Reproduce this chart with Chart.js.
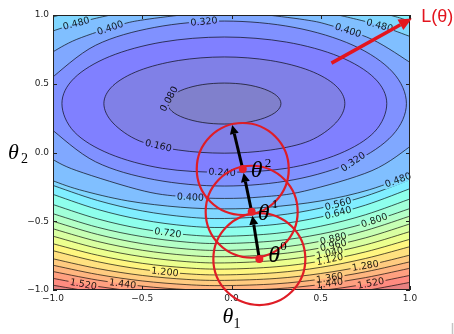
<!DOCTYPE html>
<html>
<head>
<meta charset="utf-8">
<script src="https://cdn.jsdelivr.net/npm/chart.js@4.4.0/dist/chart.umd.min.js"></script>
<style>
  html, body { margin: 0; padding: 0; background: #fff; }
  canvas { display: block; }
</style>
</head>
<body>
<canvas id="lossChart" width="454" height="334"></canvas>
<script>
// contour levels of L(theta1, theta2)
var levels = [0.08, 0.16, 0.24, 0.32, 0.40, 0.48, 0.56, 0.64, 0.72, 0.80,
              0.88, 0.96, 1.04, 1.12, 1.20, 1.28, 1.36, 1.44, 1.52, 1.60];
var levelTop = 1.76;

// closed contours around the minimum
var loop008 = [[0.277, 0.356], [0.253, 0.413], [0.184, 0.461], [0.081, 0.494], [-0.04, 0.505], [-0.161, 0.494],
  [-0.264, 0.461], [-0.333, 0.413], [-0.357, 0.356], [-0.333, 0.299], [-0.264, 0.251], [-0.161, 0.218],
  [-0.04, 0.207], [0.081, 0.218], [0.184, 0.251], [0.253, 0.299]];
var loop016 = [[0.635, 0.356], [0.584, 0.486], [0.437, 0.596], [0.218, 0.669], [-0.04, 0.695], [-0.298, 0.669],
  [-0.517, 0.596], [-0.664, 0.486], [-0.715, 0.356], [-0.664, 0.215], [-0.517, 0.085], [-0.298, 0.018],
  [-0.04, -0.005], [0.218, 0.018], [0.437, 0.085], [0.584, 0.215]];
var loop024 = [[0.87, 0.356], [0.801, 0.541], [0.603, 0.698], [0.308, 0.803], [-0.04, 0.84], [-0.388, 0.803],
  [-0.683, 0.698], [-0.881, 0.541], [-0.95, 0.356], [-0.881, 0.15], [-0.683, -0.01], [-0.388, -0.115],
  [-0.04, -0.144], [0.308, -0.115], [0.603, -0.01], [0.801, 0.15]];
// 0.32 leaves through the left edge only
var arc032 = [[-1.01, 0.17], [-0.761, -0.068], [-0.43, -0.198], [-0.04, -0.244], [0.35, -0.198], [0.681, -0.068],
  [0.902, 0.126], [0.98, 0.356], [0.902, 0.586], [0.681, 0.78], [0.35, 0.91], [-0.04, 0.956], [-0.43, 0.91],
  [-0.761, 0.78], [-1.01, 0.54]];
// 0.40 and 0.48: lower arc plus the two pieces cut by the top edge
var low040 = [[-1.01, -0.045], [-0.867, -0.132], [-0.488, -0.281], [-0.25, -0.323], [-0.04, -0.334],
  [0.17, -0.323], [0.408, -0.281], [0.787, -0.132], [1.01, 0.052]];
var topLeft040 = [[-0.25, 1.005], [-0.488, 0.966], [-0.625, 0.928], [-0.867, 0.823], [-1.01, 0.725]];
var topRight040 = [[0.17, 1.005], [0.408, 0.966], [0.545, 0.928], [0.787, 0.823], [1.01, 0.647]];
var low048 = [[-1.01, -0.201], [-0.852, -0.271], [-0.581, -0.352], [-0.286, -0.398], [-0.04, -0.41],
  [0.206, -0.398], [0.501, -0.352], [0.772, -0.271], [1.01, -0.157]];
var topLeft048 = [[-0.66, 1.005], [-0.77, 0.973], [-0.87, 0.939], [-1.01, 0.88]];
var topRight048 = [[0.58, 1.005], [0.70, 0.969], [0.83, 0.924], [1.01, 0.839]];
var topLeft056 = [[-0.94, 1.005], [-0.975, 0.995], [-1.01, 0.98]];
var topRight056 = [[0.87, 1.005], [0.94, 0.98], [1.01, 0.95]];

// lower contours, 0.56 .. 1.60, sampled at the same theta1 values
var lowX = [-1.01, -0.75, -0.5, -0.25, -0.04, 0.25, 0.5, 0.75, 1.01];
var lowLevels = [0.56, 0.64, 0.72, 0.80, 0.88, 0.96, 1.04, 1.12, 1.20, 1.28, 1.36, 1.44, 1.52, 1.60];
var low056 = [-0.235, -0.349, -0.425, -0.469, -0.48, -0.458, -0.404, -0.318, -0.193];
var low064 = [-0.30, -0.414, -0.49, -0.534, -0.545, -0.523, -0.469, -0.383, -0.258];
var low072 = [-0.374, -0.483, -0.556, -0.598, -0.609, -0.588, -0.536, -0.453, -0.333];
var low080 = [-0.441, -0.544, -0.612, -0.652, -0.662, -0.642, -0.593, -0.515, -0.403];
var low088 = [-0.496, -0.596, -0.663, -0.702, -0.712, -0.693, -0.645, -0.568, -0.458];
var low096 = [-0.551, -0.647, -0.711, -0.748, -0.758, -0.74, -0.694, -0.621, -0.515];
var low104 = [-0.605, -0.697, -0.758, -0.794, -0.803, -0.785, -0.742, -0.672, -0.571];
var low112 = [-0.66, -0.747, -0.806, -0.839, -0.848, -0.831, -0.79, -0.723, -0.627];
var low120 = [-0.711, -0.794, -0.85, -0.882, -0.89, -0.874, -0.835, -0.771, -0.681];
var low128 = [-0.77, -0.844, -0.894, -0.923, -0.93, -0.916, -0.88, -0.824, -0.743];
var low136 = [-0.817, -0.887, -0.934, -0.961, -0.968, -0.955, -0.921, -0.868, -0.792];
var low144 = [-0.863, -0.928, -0.972, -0.997, -1.004, -0.991, -0.96, -0.91, -0.839];
var low152 = [-0.913, -0.974, -1.015, -1.039, -1.045, -1.033, -1.004, -0.958, -0.891];
var low160 = [-0.963, -1.019, -1.057, -1.079, -1.085, -1.074, -1.047, -1.004, -0.942];
var lowYs = [low056, low064, low072, low080, low088, low096, low104, low112, low120, low128,
             low136, low144, low152, low160];

// inline contour labels: level, theta1, theta2
var contourLabels = [
  [0.48, -0.87, 0.939], [0.40, -0.68, 0.906], [0.32, -0.154, 0.952], [0.08, -0.35, 0.39],
  [0.16, -0.41, 0.05], [0.24, -0.053, -0.144], [0.32, 0.681, -0.068], [0.40, 0.653, 0.888],
  [0.48, 0.83, 0.924], [0.40, -0.23, -0.325], [0.48, 0.933, -0.2], [0.56, 0.597, -0.374],
  [0.64, 0.597, -0.439], [0.72, -0.356, -0.584], [0.80, 0.80, -0.494], [0.88, 0.57, -0.626],
  [0.96, 0.57, -0.676], [1.04, 0.55, -0.73], [1.12, 0.55, -0.778], [1.20, -0.373, -0.869],
  [1.28, 0.75, -0.824], [1.36, 0.55, -0.912], [1.44, 0.55, -0.952], [1.44, -0.61, -0.955],
  [1.52, -0.83, -0.958], [1.52, 0.78, -0.951]
];

// gradient descent steps theta^0, theta^1, theta^2 and where the next step heads
var stepX = [0.156, 0.113, 0.063];
var stepY = [-0.775, -0.431, -0.12];
var nextStep = [0.004, 0.2];
// arrow toward the L(theta) axis
var lossArrow = [[0.56, 0.65], [1.01, 0.975]];

var contours = [
  { level: 0.08, side: 'loop', pts: loop008 },
  { level: 0.16, side: 'loop', pts: loop016 },
  { level: 0.24, side: 'loop', pts: loop024 },
  { level: 0.32, side: 'edge', pts: arc032 },
  { level: 0.40, side: 'above', pts: low040 },
  { level: 0.40, side: 'topleft', pts: topLeft040 },
  { level: 0.40, side: 'topright', pts: topRight040 },
  { level: 0.48, side: 'above', pts: low048 },
  { level: 0.48, side: 'topleft', pts: topLeft048 },
  { level: 0.48, side: 'topright', pts: topRight048 },
  { level: 0.56, side: 'topleft', pts: topLeft056 },
  { level: 0.56, side: 'topright', pts: topRight056 }
];
lowLevels.forEach(function (lv, i) {
  contours.push({ level: lv, side: 'above', pts: lowX.map(function (x, j) { return [x, lowYs[i][j]]; }) });
});

// matplotlib "jet", half transparent over white
function jet(t) {
  function ramp(stops) {
    for (var i = 1; i < stops.length; i++) {
      if (t <= stops[i][0]) {
        var a = stops[i - 1], b = stops[i];
        return a[1] + (b[1] - a[1]) * (t - a[0]) / (b[0] - a[0]);
      }
    }
    return stops[stops.length - 1][1];
  }
  return [
    ramp([[0, 0], [0.35, 0], [0.66, 1], [0.89, 1], [1, 0.5]]),
    ramp([[0, 0], [0.125, 0], [0.375, 1], [0.64, 1], [0.91, 0], [1, 0]]),
    ramp([[0, 0.5], [0.11, 1], [0.34, 1], [0.65, 0], [1, 0]])
  ];
}
function bandColor(lo, hi) {
  var c = jet((lo + hi) / 2 / levelTop);
  return 'rgb(' + c.map(function (v) { return Math.round(255 * (0.5 * v + 0.5)); }).join(',') + ')';
}

function smoothPath(ctx, p, closed) {
  var n = p.length;
  ctx.moveTo(p[0][0], p[0][1]);
  var segs = closed ? n : n - 1;
  for (var i = 0; i < segs; i++) {
    var p0 = p[closed ? (i - 1 + n) % n : Math.max(i - 1, 0)];
    var p1 = p[i];
    var p2 = p[(i + 1) % n];
    var p3 = p[closed ? (i + 2) % n : Math.min(i + 2, n - 1)];
    ctx.bezierCurveTo(p1[0] + (p2[0] - p0[0]) / 6, p1[1] + (p2[1] - p0[1]) / 6,
                      p2[0] - (p3[0] - p1[0]) / 6, p2[1] - (p3[1] - p1[1]) / 6, p2[0], p2[1]);
  }
  if (closed) ctx.closePath();
}

// corners used to close each contour on its low-value side
var lowSide = {
  above: [[1.2, 1.2], [-1.2, 1.2]],
  topleft: [[-1.2, -1.2], [1.2, -1.2], [1.2, 1.2]],
  topright: [[1.2, -1.2], [-1.2, -1.2], [-1.2, 1.2]],
  edge: [],
  loop: []
};

function drawArrow(ctx, x0, y0, x1, y1, width, headLen, headHalf, color) {
  var dx = x1 - x0, dy = y1 - y0, len = Math.sqrt(dx * dx + dy * dy);
  var ux = dx / len, uy = dy / len;
  var bx = x1 - ux * headLen, by = y1 - uy * headLen;
  ctx.save();
  ctx.strokeStyle = color;
  ctx.fillStyle = color;
  ctx.lineWidth = width;
  ctx.beginPath();
  ctx.moveTo(x0, y0);
  ctx.lineTo(bx, by);
  ctx.stroke();
  ctx.beginPath();
  ctx.moveTo(x1, y1);
  ctx.lineTo(bx - uy * headHalf, by + ux * headHalf);
  ctx.lineTo(bx + uy * headHalf, by - ux * headHalf);
  ctx.closePath();
  ctx.fill();
  ctx.restore();
}

var labelFont = '9.5px "DejaVu Sans"';

var contourPlugin = {
  id: 'contours',
  beforeDatasetsDraw: function (chart) {
    var ctx = chart.ctx, a = chart.chartArea;
    var xs = chart.scales.x, ys = chart.scales.y;
    var toPx = function (p) { return [xs.getPixelForValue(p[0]), ys.getPixelForValue(p[1])]; };
    var w = a.right - a.left, h = a.bottom - a.top;

    // filled bands, painted from the highest level down
    ctx.save();
    ctx.beginPath();
    ctx.rect(a.left, a.top, w, h);
    ctx.clip();
    ctx.fillStyle = bandColor(1.60, 1.68);
    ctx.fillRect(a.left, a.top, w, h);
    for (var i = levels.length - 1; i >= 0; i--) {
      var lv = levels[i];
      ctx.save();
      contours.forEach(function (c) {
        if (c.level !== lv) return;
        ctx.beginPath();
        smoothPath(ctx, c.pts.map(toPx), c.side === 'loop');
        lowSide[c.side].forEach(function (q) { var r = toPx(q); ctx.lineTo(r[0], r[1]); });
        ctx.closePath();
        ctx.clip();
      });
      ctx.fillStyle = bandColor(lv - 0.08, lv);
      ctx.fillRect(a.left, a.top, w, h);
      ctx.restore();
    }
    ctx.restore();

    // contour lines, broken where the labels sit
    var off = document.createElement('canvas');
    off.width = chart.width;
    off.height = chart.height;
    var oc = off.getContext('2d');
    oc.beginPath();
    oc.rect(a.left, a.top, w, h);
    oc.clip();
    oc.strokeStyle = 'rgba(0,0,0,0.72)';
    oc.lineWidth = 0.9;
    contours.forEach(function (c) {
      oc.beginPath();
      smoothPath(oc, c.pts.map(toPx), c.side === 'loop');
      oc.stroke();
    });

    var placed = contourLabels.map(function (l) {
      var q = toPx([l[1], l[2]]);
      var best = Infinity, ang = 0;
      contours.forEach(function (c) {
        if (c.level !== l[0]) return;
        var p = c.pts.map(toPx);
        for (var k = 0; k < p.length - 1; k++) {
          var mx = (p[k][0] + p[k + 1][0]) / 2, my = (p[k][1] + p[k + 1][1]) / 2;
          var d = (mx - q[0]) * (mx - q[0]) + (my - q[1]) * (my - q[1]);
          if (d < best) {
            best = d;
            ang = Math.atan2(p[k + 1][1] - p[k][1], p[k + 1][0] - p[k][0]);
          }
        }
      });
      if (ang > Math.PI / 2) ang -= Math.PI;
      if (ang < -Math.PI / 2) ang += Math.PI;
      return { text: l[0].toFixed(3), x: q[0], y: q[1], ang: ang };
    });

    oc.globalCompositeOperation = 'destination-out';
    oc.font = labelFont;
    placed.forEach(function (l) {
      var tw = oc.measureText(l.text).width + 3;
      oc.save();
      oc.translate(l.x, l.y);
      oc.rotate(l.ang);
      oc.fillRect(-tw / 2, -4.5, tw, 9);
      oc.restore();
    });
    ctx.drawImage(off, 0, 0);

    ctx.save();
    ctx.font = labelFont;
    ctx.fillStyle = 'rgba(0,0,0,0.88)';
    ctx.textAlign = 'center';
    ctx.textBaseline = 'middle';
    placed.forEach(function (l) {
      ctx.save();
      ctx.translate(l.x, l.y);
      ctx.rotate(l.ang);
      ctx.fillText(l.text, 0, 0.5);
      ctx.restore();
    });
    ctx.restore();

    // frame and inward ticks on all four sides
    ctx.save();
    ctx.strokeStyle = '#222';
    ctx.lineWidth = 1;
    ctx.strokeRect(Math.round(a.left) + 0.5, Math.round(a.top) + 0.5, Math.round(w) - 1, Math.round(h) - 1);
    ctx.beginPath();
    xs.ticks.forEach(function (t) {
      var x = Math.round(xs.getPixelForValue(t.value)) + 0.5;
      ctx.moveTo(x, a.bottom); ctx.lineTo(x, a.bottom - 4);
      ctx.moveTo(x, a.top); ctx.lineTo(x, a.top + 4);
    });
    ys.ticks.forEach(function (t) {
      var y = Math.round(ys.getPixelForValue(t.value)) + 0.5;
      ctx.moveTo(a.left, y); ctx.lineTo(a.left + 4, y);
      ctx.moveTo(a.right, y); ctx.lineTo(a.right - 4, y);
    });
    ctx.stroke();
    ctx.restore();
  },

  // descent arrows sit between the circles and the red dots
  afterDatasetDraw: function (chart, args) {
    if (args.index !== 0) return;
    var ctx = chart.ctx, xs = chart.scales.x, ys = chart.scales.y;
    var px = stepX.map(function (v) { return xs.getPixelForValue(v); });
    var py = stepY.map(function (v) { return ys.getPixelForValue(v); });
    px.push(xs.getPixelForValue(nextStep[0]));
    py.push(ys.getPixelForValue(nextStep[1]));
    for (var i = 0; i < px.length - 1; i++) {
      var dx = px[i + 1] - px[i], dy = py[i + 1] - py[i];
      var len = Math.sqrt(dx * dx + dy * dy);
      var stop = i < px.length - 2 ? 4 : 0;
      drawArrow(ctx, px[i], py[i], px[i + 1] - dx / len * stop, py[i + 1] - dy / len * stop,
                3, 9, 4.5, '#000');
    }
  },

  afterDatasetsDraw: function (chart) {
    var ctx = chart.ctx, a = chart.chartArea, xs = chart.scales.x, ys = chart.scales.y;

    // theta^k next to each step
    var offs = [[9, 3, 21, -9], [6, 8, 20, -4], [8, 8, 22, -2]];
    ctx.save();
    ctx.fillStyle = '#000';
    ctx.textBaseline = 'alphabetic';
    ctx.textAlign = 'left';
    stepX.forEach(function (v, i) {
      var x = xs.getPixelForValue(v), y = ys.getPixelForValue(stepY[i]);
      ctx.font = 'italic 24px "Liberation Serif"';
      ctx.fillText('\u03b8', x + offs[i][0], y + offs[i][1]);
      ctx.font = '13px "Liberation Serif"';
      ctx.fillText(String(i), x + offs[i][2], y + offs[i][3]);
    });

    // axis titles
    var y0 = ys.getPixelForValue(0), x0 = xs.getPixelForValue(0);
    ctx.font = 'italic 22px "Liberation Serif"';
    ctx.fillText('\u03b8', 8, y0 + 6);
    ctx.fillText('\u03b8', x0 - 9, a.bottom + 33);
    ctx.font = '14px "Liberation Serif"';
    ctx.fillText('2', 21, y0 + 10);
    ctx.fillText('1', x0 + 2, a.bottom + 38);
    ctx.restore();

    // red arrow to L(theta)
    var t0 = [xs.getPixelForValue(lossArrow[0][0]), ys.getPixelForValue(lossArrow[0][1])];
    var t1 = [xs.getPixelForValue(lossArrow[1][0]), ys.getPixelForValue(lossArrow[1][1])];
    drawArrow(ctx, t0[0], t0[1], t1[0], t1[1], 3.5, 13, 6, '#e3151e');
    ctx.save();
    ctx.fillStyle = '#e3151e';
    ctx.font = '18px "Liberation Sans"';
    ctx.textAlign = 'left';
    ctx.textBaseline = 'alphabetic';
    ctx.fillText('L(\u03b8)', t1[0] + 9.5, t1[1] + 4);
    ctx.restore();

    // small grey mark at the lower right corner
    ctx.save();
    ctx.strokeStyle = '#c4c4c4';
    ctx.lineWidth = 1.5;
    ctx.beginPath();
    ctx.moveTo(452.5, 323);
    ctx.lineTo(452.5, 334);
    ctx.stroke();
    ctx.restore();
  }
};

function fmtTick(v) {
  return (v < 0 ? '\u2212' : '') + Math.abs(v).toFixed(1);
}

var tickFont = { family: 'DejaVu Sans', size: 9 };

new Chart(document.getElementById('lossChart'), {
  type: 'scatter',
  data: {
    datasets: [
      {
        // circles round each step
        data: stepX.map(function (x, i) { return { x: x, y: stepY[i] }; }),
        pointRadius: 46,
        pointBackgroundColor: 'rgba(0,0,0,0)',
        pointBorderColor: '#df1d26',
        pointBorderWidth: 2.2,
        clip: false,
        order: 2
      },
      {
        data: stepX.map(function (x, i) { return { x: x, y: stepY[i] }; }),
        pointRadius: 4,
        pointBackgroundColor: '#e8202a',
        pointBorderWidth: 0,
        clip: false,
        order: 0
      }
    ]
  },
  options: {
    responsive: false,
    devicePixelRatio: 1,
    animation: false,
    events: [],
    layout: { autoPadding: false, padding: { left: 0, top: 15, right: 44, bottom: 0 } },
    plugins: { legend: { display: false }, tooltip: { enabled: false } },
    scales: {
      x: {
        type: 'linear', min: -1, max: 1,
        afterFit: function (s) { s.height = 44; },
        grid: { display: false, drawTicks: false },
        border: { display: false },
        ticks: { stepSize: 0.5, autoSkip: false, maxRotation: 0, padding: 3, color: '#222', font: tickFont, callback: fmtTick }
      },
      y: {
        type: 'linear', min: -1, max: 1,
        afterFit: function (s) { s.width = 53; },
        grid: { display: false, drawTicks: false },
        border: { display: false },
        ticks: { stepSize: 0.5, autoSkip: false, padding: 4, color: '#222', font: tickFont, callback: fmtTick }
      }
    }
  },
  plugins: [contourPlugin]
});
</script>
</body>
</html>
